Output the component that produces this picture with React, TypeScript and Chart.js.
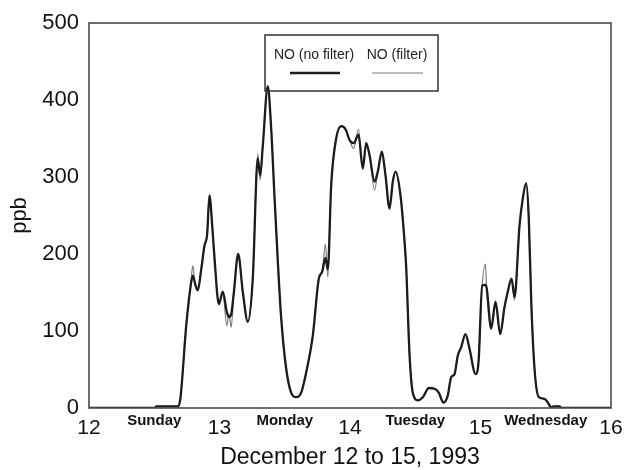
import React, { useEffect, useRef } from "react";
import { Chart, registerables } from "chart.js";

Chart.register(...registerables);

// time in days (December 12 = 12.0)
const times = [
  12.0, 12.5, 12.52, 12.68, 12.7, 12.745, 12.78, 12.795, 12.815, 12.834, 12.86, 12.885, 12.905, 12.923, 12.945, 12.962,
  12.995, 13.025, 13.056, 13.072, 13.09, 13.11, 13.143, 13.179, 13.217, 13.255, 13.293, 13.312, 13.332, 13.37, 13.396,
  13.421, 13.447, 13.473, 13.511, 13.549, 13.588, 13.626, 13.664, 13.715, 13.761, 13.787, 13.812, 13.83, 13.856, 13.894,
  13.933, 13.969, 13.996, 14.029, 14.065, 14.098, 14.124, 14.149, 14.188, 14.213, 14.244, 14.272, 14.303, 14.328, 14.349,
  14.387, 14.418, 14.43, 14.456, 14.481, 14.52, 14.558, 14.604, 14.648, 14.68, 14.716, 14.749, 14.775, 14.801, 14.826,
  14.852, 14.885, 14.916, 14.962, 14.985, 15.013, 15.038, 15.048, 15.082, 15.115, 15.151, 15.184, 15.209, 15.238, 15.261,
  15.299, 15.324, 15.35, 15.37, 15.389, 15.414, 15.447, 15.49, 15.516, 15.542, 15.56, 15.605, 15.62, 16.0,
];

const noFilter = [
  0, 0, 2, 2, 12, 107, 160, 172, 160, 153, 180, 211, 225, 276, 235, 194,
  135, 151, 125, 118, 122, 150, 200, 150, 112, 168, 324, 302, 341, 418, 363,
  276, 190, 116, 51, 20, 14, 20, 46, 94, 168, 177, 195, 180, 290, 350,
  366, 361, 348, 344, 355, 311, 344, 329, 294, 307, 333, 302, 259, 294, 307,
  276, 216, 185, 70, 20, 10, 14, 26, 25, 20, 7, 16, 40, 44, 68,
  79, 96, 77, 44, 60, 159, 160, 155, 103, 138, 96, 131, 151, 168, 144,
  237, 272, 292, 246, 138, 51, 14, 12, 7, 1, 2, 2, 0, 0,
];

const withFilter = [
  0, 0, 2, 2, 12, 107, 160, 185, 158, 152, 180, 211, 225, 276, 235, 194,
  135, 151, 107, 122, 105, 150, 200, 150, 112, 168, 330, 296, 341, 418, 363,
  276, 190, 116, 51, 20, 14, 20, 46, 94, 168, 177, 213, 170, 290, 350,
  366, 361, 348, 337, 362, 311, 344, 329, 283, 307, 333, 302, 259, 294, 307,
  276, 216, 185, 70, 20, 10, 14, 26, 25, 20, 7, 16, 40, 44, 68,
  79, 96, 77, 44, 60, 159, 187, 150, 103, 138, 96, 131, 151, 168, 140,
  237, 272, 292, 246, 138, 51, 14, 12, 7, 1, 2, 2, 0, 0,
];

const seriesLabels = ["NO (no filter)", "NO (filter)"];
const dayNames = ["Sunday", "Monday", "Tuesday", "Wednesday"];
const dayPositions = [12.5, 13.5, 14.5, 15.5];
const xTitle = "December 12 to 15, 1993";
const yTitle = "ppb";

export default function App() {
  const ref = useRef<HTMLCanvasElement | null>(null);

  useEffect(() => {
    if (!ref.current) return;

    const framePlugin = {
      id: "frame",
      beforeDatasetsDraw(chart: any) {
        const { ctx } = chart;
        ctx.save();
        ctx.fillStyle = "#ffffff";
        ctx.fillRect(265, 35, 173, 56);
        ctx.restore();
      },
      afterDatasetsDraw(chart: any) {
        const { ctx, chartArea } = chart;
        ctx.save();
        ctx.strokeStyle = "#4a4a4a";
        ctx.lineWidth = 1.6;
        ctx.strokeRect(chartArea.left, chartArea.top, chartArea.right - chartArea.left, chartArea.bottom - chartArea.top);
        // legend box
        ctx.strokeStyle = "#333333";
        ctx.lineWidth = 1.5;
        ctx.strokeRect(265, 35, 173, 56);
        const ds = chart.data.datasets;
        ctx.fillStyle = "#222222";
        ctx.font = "14px 'Liberation Sans', Arial, sans-serif";
        ctx.textAlign = "center";
        ctx.textBaseline = "middle";
        ctx.fillText(ds[0].label, 314, 55);
        ctx.fillText(ds[1].label, 397, 55);
        ctx.lineWidth = ds[0].borderWidth;
        ctx.strokeStyle = ds[0].borderColor;
        ctx.beginPath();
        ctx.moveTo(290, 73);
        ctx.lineTo(340, 73);
        ctx.stroke();
        ctx.lineWidth = ds[1].borderWidth;
        ctx.strokeStyle = ds[1].borderColor;
        ctx.beginPath();
        ctx.moveTo(372, 73);
        ctx.lineTo(423, 73);
        ctx.stroke();
        // day names
        const xs = chart.scales.x;
        ctx.fillStyle = "#111111";
        ctx.font = "bold 15px 'Liberation Sans', Arial, sans-serif";
        dayNames.forEach((d, i) => {
          ctx.fillText(d, xs.getPixelForValue(dayPositions[i]), chartArea.bottom + 13);
        });
        ctx.restore();
      },
    };

    const chart = new Chart(ref.current, {
      type: "line",
      data: {
        datasets: [
          {
            label: seriesLabels[0],
            data: times.map((t, i) => ({ x: t, y: noFilter[i] })),
            borderColor: "#1c1c1c",
            borderWidth: 2.3,
            pointRadius: 0,
            cubicInterpolationMode: "monotone",
            order: 1,
          },
          {
            label: seriesLabels[1],
            data: times.map((t, i) => ({ x: t, y: withFilter[i] })),
            borderColor: "#7a7a7a",
            borderWidth: 1.2,
            pointRadius: 0,
            cubicInterpolationMode: "monotone",
            order: 2,
          },
        ],
      },
      options: {
        animation: false,
        responsive: false,
        layout: { padding: { top: 23, right: 13, left: 0, bottom: 0 } },
        plugins: { legend: { display: false }, tooltip: { enabled: false } },
        scales: {
          x: {
            type: "linear",
            min: 12,
            max: 16,
            afterFit: (s: any) => {
              s.height = 62;
              s.paddingLeft = 0;
              s.paddingRight = 0;
            },
            grid: { display: false, drawTicks: false },
            border: { display: false },
            ticks: {
              stepSize: 1,
              padding: 8,
              color: "#111111",
              font: { family: "'Liberation Sans', Arial, sans-serif", size: 21 },
              maxRotation: 0,
            },
            title: {
              display: true,
              text: xTitle,
              color: "#111111",
              font: { family: "'Liberation Sans', Arial, sans-serif", size: 23, lineHeight: 1 },
              padding: { top: 0, bottom: 1 },
            },
          },
          y: {
            min: 0,
            max: 500,
            afterFit: (s: any) => {
              s.width = 89;
              s.paddingTop = 0;
              s.paddingBottom = 0;
            },
            grid: { display: false, drawTicks: false },
            border: { display: false },
            ticks: {
              stepSize: 100,
              padding: 10,
              color: "#111111",
              font: { family: "'Liberation Sans', Arial, sans-serif", size: 22 },
            },
            title: {
              display: true,
              text: yTitle,
              color: "#111111",
              font: { family: "'Liberation Sans', Arial, sans-serif", size: 22, lineHeight: 1.2 },
              padding: { top: 7, bottom: 0 },
            },
          },
        },
      },
      plugins: [framePlugin],
    });

    return () => chart.destroy();
  }, []);

  return (
    <div style={{ position: "fixed", left: 0, top: 0, width: 624, height: 470, background: "#ffffff" }}>
      <canvas ref={ref} width={624} height={470} style={{ display: "block" }} />
    </div>
  );
}
